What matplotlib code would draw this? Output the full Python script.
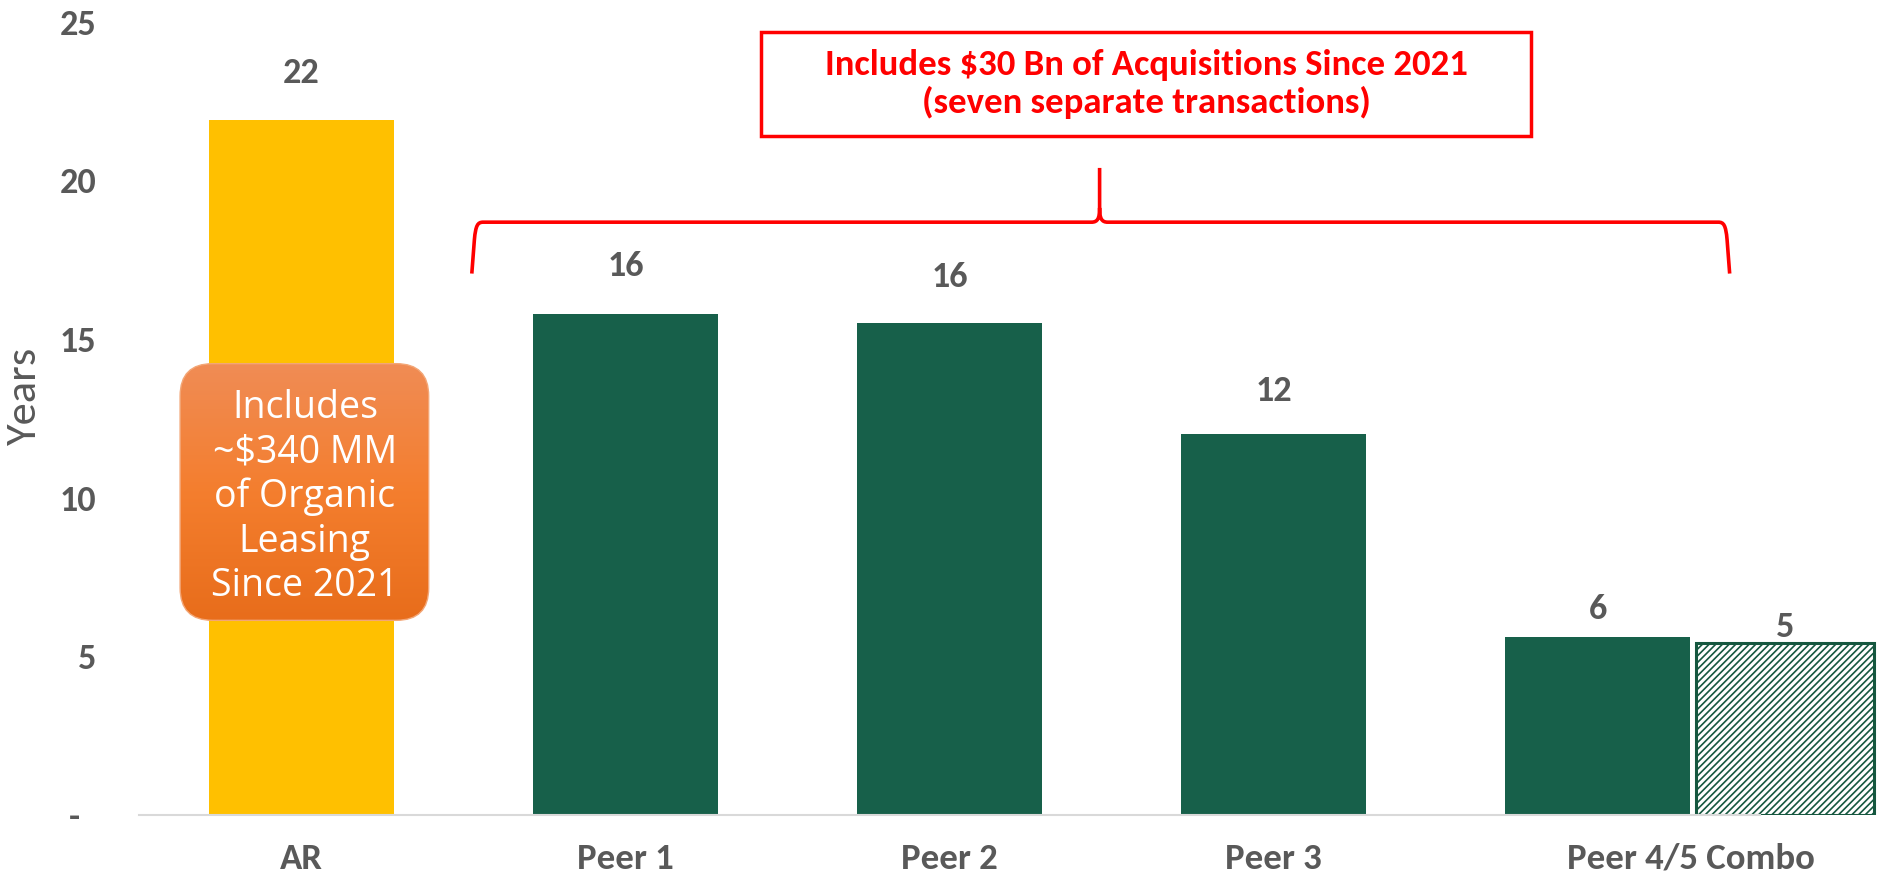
import numpy as np
import matplotlib
matplotlib.use("Agg")
import matplotlib.pyplot as plt
from matplotlib.patches import Rectangle, FancyBboxPatch, PathPatch
from matplotlib.path import Path
from matplotlib.colors import LinearSegmentedColormap
from matplotlib import font_manager as fm

# ---------------- data ----------------
categories = ["AR", "Peer 1", "Peer 2", "Peer 3", "Peer 4/5 Combo"]
values = [21.9, 15.8, 15.5, 12.0, 5.6]
value_labels = ["22", "16", "16", "12", "6"]
combo_alt_value = 5.4
combo_alt_label = "5"
yticks = [0, 5, 10, 15, 20, 25]
ytick_labels = ["-  ", "5", "10", "15", "20", "25"]
acq_text = "Includes $30 Bn of Acquisitions Since 2021\n(seven separate transactions)"
org_text = "Includes\n~$340 MM\nof Organic\nLeasing\nSince 2021"

# ---------------- style ----------------
def pick(*names):
    avail = {f.name for f in fm.fontManager.ttflist}
    for n in names:
        if n in avail:
            return n
    return "DejaVu Sans"

CAL = pick("Carlito", "Lato", "Open Sans")
SEG = pick("Open Sans", "Noto Sans", "DejaVu Sans")

GREEN = "#17604A"
YELLOW = "#FFC000"
GREY = "#595959"
RED = "#FF0000"
plt.rcParams["hatch.linewidth"] = 1.2

fig = plt.figure(figsize=(18.82, 8.77), dpi=100)
ax = fig.add_axes([0.074, 0.0709, 0.926, 0.9044])
ax.set_xlim(-0.5, 4.877)
ax.set_ylim(0, 25)

x = np.arange(len(categories))
bw = 0.57
colors = [YELLOW] + [GREEN] * (len(categories) - 1)
ax.bar(x, values, width=bw, color=colors, zorder=2)
alt_x = x[-1] + 0.578
ax.bar([alt_x], [combo_alt_value], width=bw * 0.965, color="white",
       edgecolor="#15573F", hatch="/////", linewidth=2.2, zorder=2)

# value labels
label_offsets = [34, 34, 33, 31, 20, 12]
xs = list(x) + [alt_x]
vals = values + [combo_alt_value]
labs = value_labels + [combo_alt_label]
for xi, v, lab, off in zip(xs, vals, labs, label_offsets):
    ax.annotate(lab, (xi, v), xytext=(0, off), textcoords="offset points",
                ha="center", va="center", fontsize=26, fontweight="bold",
                color=GREY, family=CAL)

# axes styling
for s in ["top", "right", "left"]:
    ax.spines[s].set_visible(False)
ax.spines["bottom"].set_color("#D9D9D9")
ax.spines["bottom"].set_linewidth(1.5)
ax.spines["bottom"].set_bounds(-0.5, 4.5)
ax.set_yticks(yticks, ytick_labels)
ax.tick_params(axis="y", length=0, pad=31, labelsize=26, labelcolor=GREY)
for t in ax.get_yticklabels():
    t.set_fontfamily(CAL)
    t.set_fontweight("bold")
tick_pos = list(x[:-1]) + [(x[-1] + alt_x) / 2]
ax.set_xticks(tick_pos, categories)
ax.tick_params(axis="x", length=0, pad=20, labelsize=26.5, labelcolor=GREY)
for t in ax.get_xticklabels():
    t.set_fontfamily(CAL)
    t.set_fontweight("bold")
ax.set_ylabel("Years", fontsize=32, color=GREY, family=CAL)
ax.yaxis.set_label_coords(-0.055, 0.528)

# red annotation box
ax.add_patch(Rectangle((1.419, 21.41), 3.793 - 1.419, 24.66 - 21.41,
                       fill=False, edgecolor=RED, linewidth=2.5, zorder=4,
                       clip_on=False))
ax.text(2.606, 23.03, acq_text, ha="center", va="center", color=RED,
        fontsize=26.5, fontweight="bold", family=CAL, linespacing=1.2, zorder=5)

# bracket
yh, ye, yp = 18.68, 17.06, 20.39
xl, xr, xp = 0.526, 4.407, 2.463
cx, cy = 0.035, 0.55
verts = [
    (xl, ye), (xl + 0.008, yh - cy),
    (xl + 0.012, yh - 0.1), (xl + 0.018, yh), (xl + cx, yh),
    (xp - 0.025, yh),
    (xp - 0.006, yh), (xp, yh + 0.12), (xp, yh + 0.45),
    (xp, yp),
    (xp, yh + 0.45),
    (xp, yh + 0.12), (xp + 0.006, yh), (xp + 0.025, yh),
    (xr - cx, yh),
    (xr - 0.018, yh), (xr - 0.012, yh - 0.1), (xr - 0.008, yh - cy),
    (xr, ye),
]
codes = [Path.MOVETO, Path.LINETO,
         Path.CURVE4, Path.CURVE4, Path.CURVE4,
         Path.LINETO,
         Path.CURVE4, Path.CURVE4, Path.CURVE4,
         Path.LINETO,
         Path.MOVETO,
         Path.CURVE4, Path.CURVE4, Path.CURVE4,
         Path.LINETO,
         Path.CURVE4, Path.CURVE4, Path.CURVE4,
         Path.LINETO]
ax.add_patch(PathPatch(Path(verts, codes), fill=False, edgecolor=RED,
                       linewidth=2.6, zorder=4, capstyle="butt"))

# orange rounded box with gradient
bx0, bx1, by0, by1 = -0.374, 0.393, 6.13, 14.22
box = FancyBboxPatch((bx0, by0), bx1 - bx0, by1 - by0,
                     boxstyle="round,pad=0,rounding_size=0.1",
                     mutation_aspect=10.2, facecolor="none",
                     edgecolor="#F3A676", linewidth=1.0, zorder=5)
ax.add_patch(box)
grad = np.linspace(0, 1, 256).reshape(-1, 1)
cmap = LinearSegmentedColormap.from_list("og", ["#F08C55", "#F47E2E", "#E86D1B"])
im = ax.imshow(grad, extent=(bx0, bx1, by0, by1), origin="upper", cmap=cmap,
               aspect="auto", zorder=4.5, interpolation="bilinear")
im.set_clip_path(box)
ax.set_xlim(-0.5, 4.877)
ax.set_ylim(0, 25)
ax.text(0.011, 10.02, org_text, ha="center", va="center", color="white",
        fontsize=27, family=SEG, linespacing=1.22, zorder=6)

fig.savefig("out.png", dpi=100)
